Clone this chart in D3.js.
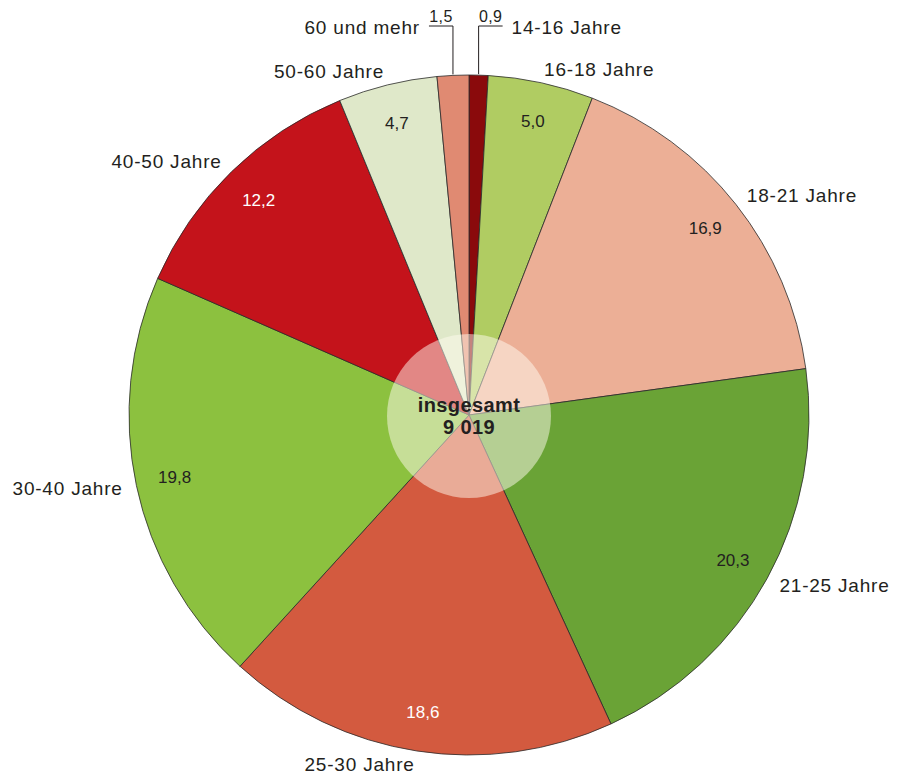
<!DOCTYPE html>
<html>
<head>
<meta charset="utf-8">
<script src="https://cdn.jsdelivr.net/npm/d3@7"></script>
<style>
  body { margin: 0; background: #fff; }
  text { font-family: "Liberation Sans", Arial, Helvetica, sans-serif; fill: #231f20; }
</style>
</head>
<body>
<svg id="pie" width="902" height="778"></svg>
<script>
// Altersgruppen im Uhrzeigersinn ab 12 Uhr
const categories = ['14-16 Jahre', '16-18 Jahre', '18-21 Jahre', '21-25 Jahre', '25-30 Jahre',
  '30-40 Jahre', '40-50 Jahre', '50-60 Jahre', '60 und mehr'];
const values = [0.9, 5.0, 16.9, 20.3, 18.6, 19.8, 12.2, 4.7, 1.5];
const colors = ['#8a0a0c', '#b0cc62', '#ecaf96', '#6aa336', '#d35a3f',
  '#8cc13f', '#c4131b', '#dfe8c9', '#e08a72'];
const whiteLabels = ['25-30 Jahre', '40-50 Jahre'];
const totalLabel = ['insgesamt', '9 019'];

const svg = d3.select('#pie'),
  cx = 469, cy = 415,
  radius = 340;

const fmt = v => d3.format('.1f')(v).replace('.', ',');

const pie = d3.pie().sort(null).value(d => d.value);
const arcs = pie(categories.map((c, i) => ({cat: c, value: values[i], color: colors[i]})));

const arc = d3.arc().innerRadius(0).outerRadius(radius);
const valueArc = d3.arc().innerRadius(301).outerRadius(301);
const labelArc = d3.arc().innerRadius(354).outerRadius(354);

const g = svg.append('g').attr('transform', 'translate(' + cx + ',' + cy + ')');

g.selectAll('path.slice')
  .data(arcs)
  .enter().append('path')
  .attr('class', 'slice')
  .attr('d', arc)
  .attr('fill', d => d.data.color)
  .attr('stroke', '#2a2a2a')
  .attr('stroke-width', 0.8);

// helle Scheibe in der Mitte
g.append('circle')
  .attr('r', 82)
  .attr('cy', 1)
  .attr('fill', '#fffbf0')
  .attr('fill-opacity', 0.5);

[-10, 12].forEach(function (y, i) {
  g.append('text')
    .attr('text-anchor', 'middle')
    .attr('y', y)
    .attr('dy', '0.35em')
    .style('font-weight', 'bold')
    .style('font-size', '20px')
    .style('letter-spacing', '0.4px')
    .text(totalLabel[i]);
});

const big = arcs.filter(d => d.data.value >= 3);
const small = arcs.filter(d => d.data.value < 3);

// Werte in den Segmenten
g.selectAll('text.val')
  .data(big)
  .enter().append('text')
  .attr('class', 'val')
  .attr('transform', d => 'translate(' + valueArc.centroid(d) + ')')
  .attr('text-anchor', 'middle')
  .attr('dy', '0.35em')
  .style('font-size', '17px')
  .style('fill', d => whiteLabels.includes(d.data.cat) ? '#fff' : '#231f20')
  .text(d => fmt(d.data.value));

// Beschriftungen außen
const labelSize = 19;
g.selectAll('text.lab')
  .data(big)
  .enter().append('text')
  .attr('class', 'lab')
  .attr('transform', d => 'translate(' + labelArc.centroid(d) + ')')
  .attr('text-anchor', d => labelArc.centroid(d)[0] > 0 ? 'start' : 'end')
  .attr('dy', '0.35em')
  .style('font-size', labelSize + 'px')
  .style('letter-spacing', '0.8px')
  .text(d => d.data.cat);

// kleine Segmente mit Hinweislinien
const lineTop = 26 - cy;
small.forEach(function (d) {
  const mid = (d.startAngle + d.endAngle) / 2;
  const x0 = Math.sin(mid) * radius;
  const y0 = -Math.cos(mid) * radius;
  const dir = x0 > 0 ? 1 : -1;
  const x1 = x0 + dir * 24;
  g.append('path')
    .attr('d', 'M' + x0 + ',' + (y0 - 1) + 'V' + lineTop + 'H' + x1)
    .attr('fill', 'none')
    .attr('stroke', '#231f20')
    .attr('stroke-width', 1);
  g.append('text')
    .attr('x', (x0 + x1) / 2)
    .attr('y', lineTop - 4)
    .attr('text-anchor', 'middle')
    .style('font-size', '16px')
    .style('letter-spacing', '0.4px')
    .text(fmt(d.data.value));
  g.append('text')
    .attr('x', x1 + dir * 9)
    .attr('y', lineTop + 8)
    .attr('text-anchor', dir > 0 ? 'start' : 'end')
    .style('font-size', labelSize + 'px')
    .style('letter-spacing', '0.8px')
    .text(d.data.cat);
});
</script>
</body>
</html>
